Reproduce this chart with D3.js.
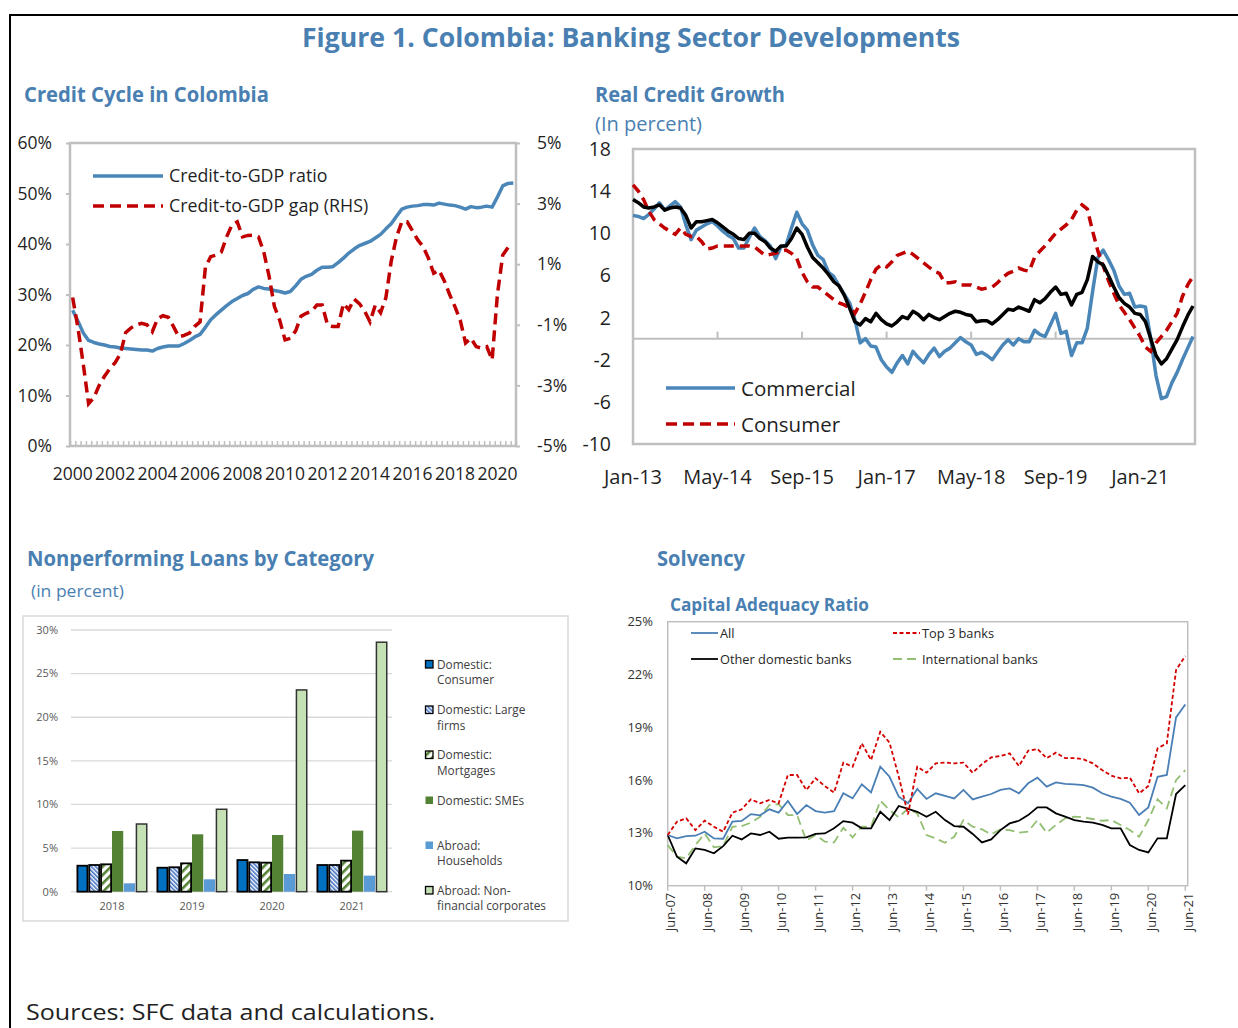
<!DOCTYPE html>
<html><head><meta charset="utf-8">
<script src="https://cdn.jsdelivr.net/npm/d3@7"></script>
<style>
body{margin:0;background:#fff}
svg{display:block}
text{font-family:"Open Sans","Noto Sans","DejaVu Sans",sans-serif}
</style>
</head><body>
<svg id="c" width="1238" height="1028"></svg>
<script>
// ---------------- DATA ----------------
// Chart 1: Credit cycle (quarterly, 2000Q1 ...)
const c1YearLabels = [2000,2002,2004,2006,2008,2010,2012,2014,2016,2018,2020];
const c1LeftTicks = [0,10,20,30,40,50,60];
const c1RightTicks = [-5,-3,-1,1,3,5];
const creditRatio = [
 26.9,24.7,22.4,20.9, 20.5,20.2,20.0,19.7, 19.6,19.4,19.3,19.2, 19.1,19.0,19.0,18.8,
 19.3,19.6,19.8,19.8, 19.8,20.3,20.9,21.6, 22.1,23.5,25.0,26.0, 26.9,27.8,28.6,29.2,
 29.8,30.2,31.0,31.5, 31.2,31.1,30.8,30.6, 30.3,30.6,31.7,33.0, 33.6,34.0,34.8,35.4,
 35.4,35.5,36.3,37.2, 38.2,39.0,39.7,40.1, 40.5,41.2,41.9,43.0, 44.0,45.5,46.9,47.3,
 47.5,47.6,47.8,47.8, 47.7,48.1,47.9,47.7, 47.6,47.3,46.9,47.4, 47.2,47.3,47.5,47.3,
 49.3,51.5,52.0,52.1];
const creditGap = [
 -0.1,-1.1,-2.3,-3.6, -3.4,-3.0,-2.7,-2.45, -2.25,-1.95,-1.25,-1.1, -1.0,-0.95,-1.0,-1.23,
 -0.8,-0.7,-0.75,-1.06, -1.4,-1.35,-1.27,-1.05, -0.9,0.9,1.25,1.3, 1.4,1.9,2.3,2.4,
 1.9,1.95,1.96,1.9, 1.4,0.6,-0.4,-0.85, -1.5,-1.45,-1.2,-0.72, -0.62,-0.55,-0.35,-0.35,
 -1.0,-1.06,-1.06,-0.3, -0.5,-0.15,-0.3,-0.55, -0.9,-0.35,-0.6,-0.1, 1.1,1.9,2.4,2.4,
 2.1,1.8,1.58,1.2, 0.7,0.8,0.45,0.0, -0.4,-0.85,-1.6,-1.44, -1.72,-1.77,-1.72,-2.16,
 0.0,1.3,1.55];

// Chart 2: Real credit growth (monthly, Jan-13 ... Nov-21)
const c2MonthLabels = ["Jan-13","May-14","Sep-15","Jan-17","May-18","Sep-19","Jan-21"];
const c2YTicks = [-10,-6,-2,2,6,10,14,18];
const commercial = [
 11.7,11.6,11.4,11.8,12.3,12.9,12.2,12.6,13.0,12.5,
 10.8,9.4,10.3,10.6,10.9,11.1,10.7,10.2,9.8,9.5,
 8.6,8.6,9.6,10.5,9.7,9.3,8.8,7.6,8.7,8.9,
 10.5,12.0,10.9,10.3,8.9,7.9,7.5,6.3,5.9,5.0,
 4.2,3.4,1.8,-0.4,0.0,-0.7,-0.8,-2.0,-2.7,-3.2,
 -2.3,-1.6,-2.4,-1.2,-1.8,-2.3,-1.5,-0.9,-1.7,-1.2,
 -0.9,-0.4,0.1,-0.3,-0.6,-1.5,-1.3,-1.6,-2.0,-1.3,
 -0.6,-0.1,-0.6,0.0,-0.3,-0.3,0.8,0.4,0.2,1.3,
 2.4,0.5,0.7,-1.6,-0.4,-0.4,1.0,4.5,7.7,8.4,
 7.5,6.5,5.0,4.2,4.3,3.0,3.1,3.0,0.0,-3.5,
 -5.7,-5.5,-4.2,-3.2,-2.0,-0.9,0.2];
const consumer = [
 14.6,14.0,13.2,12.1,11.3,10.9,10.5,10.2,9.9,10.5,
 9.9,9.7,9.7,9.2,8.5,8.6,8.8,8.8,8.8,8.8,
 8.8,8.8,8.8,8.7,8.3,7.9,8.0,8.1,8.3,8.4,
 8.1,7.6,6.3,5.4,4.9,4.9,4.5,4.1,3.7,3.4,
 3.2,2.9,2.4,3.3,4.4,5.6,6.6,7.0,6.8,7.3,
 7.9,8.1,8.3,8.0,7.6,7.2,6.8,6.4,6.2,5.3,
 5.3,5.4,5.1,5.1,5.1,4.9,4.7,4.8,4.9,5.3,
 5.8,6.2,6.4,6.7,6.5,6.4,7.7,8.3,8.8,9.4,
 10.0,10.4,10.8,11.3,12.2,12.7,12.3,10.2,8.3,6.9,
 5.5,4.3,3.2,2.5,1.8,1.0,0.2,-0.8,-1.2,-0.4,
 0.2,0.8,1.6,2.4,4.0,5.1,5.9];
const total = [
 13.2,12.9,12.5,12.4,12.5,12.7,12.2,12.4,12.5,12.4,
 11.7,10.5,11.1,11.1,11.2,11.3,11.0,10.6,10.2,9.9,
 9.5,9.4,10.0,10.0,9.5,9.2,8.6,8.3,8.8,8.8,
 9.5,10.5,9.9,8.7,7.7,7.2,6.7,6.1,5.4,5.0,
 4.1,2.9,1.6,1.3,1.9,1.6,2.4,1.8,1.4,1.2,
 1.6,2.1,1.9,2.6,2.3,1.8,2.3,2.0,1.8,2.1,
 2.4,2.6,2.5,2.3,2.2,1.6,1.7,1.7,1.4,1.8,
 2.3,2.8,2.7,3.0,2.8,2.6,3.7,3.4,3.8,4.4,
 4.9,4.2,4.3,3.2,4.2,4.4,5.6,7.8,7.3,7.0,
 6.0,4.9,3.9,3.35,3.0,2.4,2.3,1.6,0.0,-1.6,
 -2.4,-1.9,-1.0,-0.1,1.1,2.2,3.1];

// Chart 3: NPL by category
const nplYears = ["2018","2019","2020","2021"];
const nplYTicks = [0,5,10,15,20,25,30];
const nplDomConsumer = [2.98,2.75,3.63,3.06];
const nplDomLarge = [3.06,2.80,3.37,3.06];
const nplDomMortgage = [3.14,3.25,3.33,3.56];
const nplDomSME = [6.96,6.58,6.50,7.00];
const nplAbrHouseholds = [0.96,1.42,2.03,1.84];
const nplAbrNFC = [7.76,9.45,23.13,28.60];
const nplLegend = [["Domestic:","Consumer"],["Domestic: Large","firms"],["Domestic:","Mortgages"],["Domestic: SMEs"],["Abroad:","Households"],["Abroad: Non-","financial corporates"]];

// Chart 4: Capital adequacy ratio (quarterly, Jun-07 ... Jun-21)
const carLabels = ["Jun-07","Jun-08","Jun-09","Jun-10","Jun-11","Jun-12","Jun-13","Jun-14","Jun-15","Jun-16","Jun-17","Jun-18","Jun-19","Jun-20","Jun-21"];
const carYTicks = [10,13,16,19,22,25];
const carAll = [12.88,12.69,12.82,12.84,13.07,12.69,12.67,13.64,13.68,14.07,14.0,14.34,14.15,14.81,14.07,14.58,14.24,14.15,14.24,15.25,14.96,15.76,15.3,16.76,16.19,15.06,14.68,15.5,14.93,15.25,15.1,14.96,15.44,14.9,15.06,15.21,15.44,15.53,15.25,15.82,16.14,15.63,15.87,15.78,15.76,15.72,15.57,15.25,15.06,14.93,14.72,14.02,14.45,16.19,16.29,19.56,20.3];
const carTop3 = [12.88,13.64,13.83,13.16,13.7,13.35,13.07,14.15,14.34,14.91,14.68,14.87,14.68,16.29,16.29,15.44,16.1,15.66,15.29,16.99,16.76,18.09,17.14,18.75,18.13,16.19,14.05,16.76,16.42,16.95,17.0,16.95,16.99,16.42,16.91,17.29,17.37,17.52,16.8,17.67,17.77,17.25,17.56,17.25,17.25,17.18,16.95,16.57,16.25,16.1,16.14,15.25,15.66,17.8,18.09,22.25,23.05];
const carOther = [12.88,11.65,11.27,12.12,12.03,11.84,12.25,12.84,12.63,12.97,12.88,13.07,12.67,12.73,12.73,12.75,12.94,12.97,13.26,13.67,13.58,13.26,13.26,14.2,13.73,14.53,14.36,14.2,13.92,14.2,13.73,13.39,13.35,12.94,12.46,12.63,13.16,13.54,13.69,14.01,14.45,14.45,14.11,13.92,13.73,13.64,13.58,13.45,13.26,13.26,12.31,12.03,11.89,12.69,12.69,15.21,15.72];
const carIntl = [12.31,11.65,11.55,12.31,12.97,12.18,12.25,13.35,13.39,13.58,13.92,14.58,14.64,14.01,14.01,12.56,12.88,12.5,12.46,13.29,12.75,13.35,13.35,14.83,14.3,13.88,14.39,14.11,12.88,12.69,12.44,12.78,13.73,13.35,13.2,12.92,13.2,13.16,13.01,13.07,13.73,13.01,13.45,13.83,13.92,13.88,13.79,13.69,13.73,13.45,13.16,12.78,13.73,14.91,14.39,16.0,16.57];

// ---------------- DRAW ----------------
const svg = d3.select("#c");
const TITLE = "#4a7fb2";
const TXT = "#1f1f1f";
const AX = "#bfbfbf";

function label(x, y, txt, size, weight, color, len) {
  const t = svg.append("text").attr("x", x).attr("y", y).attr("font-size", size)
    .attr("font-weight", weight).attr("fill", color).text(txt);
  if (len) t.attr("textLength", len).attr("lengthAdjust", "spacingAndGlyphs");
  return t;
}

// frame
svg.append("path").attr("d", "M10,1028V15H1238").attr("fill", "none").attr("stroke", "#000").attr("stroke-width", 2);

// titles
label(302, 47, "Figure 1. Colombia: Banking Sector Developments", 27, 700, TITLE, 658);
label(24, 102, "Credit Cycle in Colombia", 21, 700, TITLE, 245);
label(595, 102, "Real Credit Growth", 21, 700, TITLE, 190);
label(595, 131, "(In percent)", 19.5, 400, TITLE, 107);
label(27, 566, "Nonperforming Loans by Category", 21, 700, TITLE, 347);
label(31, 597, "(in percent)", 17, 400, TITLE, 93);
label(657, 566, "Solvency", 21, 700, TITLE, 88);
label(670, 611, "Capital Adequacy Ratio", 17, 700, TITLE, 199);
label(26, 1020, "Sources: SFC data and calculations.", 22.5, 400, "#222", 409);

// ===== Chart 1 =====
(function(){
  const g = svg.append("g");
  const x = d3.scaleLinear().domain([0, 84]).range([70, 516]);
  const yL = d3.scaleLinear().domain([0, 60]).range([446, 143]);
  const yR = d3.scaleLinear().domain([-5, 5]).range([446, 143]);
  const [x0, x1] = x.range(), [yb, yt] = yL.range();
  g.append("rect").attr("x", x0).attr("y", yt).attr("width", x1 - x0).attr("height", yb - yt)
    .attr("fill", "none").attr("stroke", AX).attr("stroke-width", 2.5);
  const mt = g.append("g").attr("transform", `translate(0,${yb})`)
    .call(d3.axisBottom(x).tickValues(d3.range(0, 85)).tickSize(-5).tickFormat(""));
  mt.select(".domain").remove();
  mt.selectAll("line").attr("stroke", AX).attr("stroke-width", 1.5);
  const aL = g.append("g").attr("transform", `translate(${x0},0)`)
    .call(d3.axisLeft(yL).tickValues(c1LeftTicks).tickFormat(d => d + "%").tickSize(4).tickPadding(14));
  const aR = g.append("g").attr("transform", `translate(${x1},0)`)
    .call(d3.axisRight(yR).tickValues(c1RightTicks).tickFormat(d => d + "%").tickSize(4).tickPadding(17));
  [aL, aR].forEach(a => {
    a.select(".domain").remove();
    a.selectAll("line").attr("stroke", AX).attr("stroke-width", 2);
    a.selectAll("text").attr("font-size", 17.5).attr("fill", TXT).style("font-family", null);
  });
  g.selectAll(".yl").data(c1YearLabels).join("text")
    .attr("x", d => x((d - 2000) * 4 + 0.5)).attr("y", 480).attr("text-anchor", "middle")
    .attr("font-size", 17.5).attr("fill", TXT).text(d => d);
  const line = (y) => d3.line().x((d, i) => x(i + 0.5)).y(d => y(d));
  g.append("path").datum(creditRatio).attr("d", line(yL)).attr("fill", "none")
    .attr("stroke", "#4a86b8").attr("stroke-width", 3.5).attr("stroke-linejoin", "round");
  g.append("path").datum(creditGap).attr("d", line(yR)).attr("fill", "none")
    .attr("stroke", "#c00000").attr("stroke-width", 3.5).attr("stroke-dasharray", "11,6");
  const leg = [["Credit-to-GDP ratio", "#4a86b8", null, 176], ["Credit-to-GDP gap (RHS)", "#c00000", "11,6", 206]];
  leg.forEach(([t, c, da, yy]) => {
    g.append("line").attr("x1", 93).attr("x2", 163).attr("y1", yy).attr("y2", yy)
      .attr("stroke", c).attr("stroke-width", 3.5).attr("stroke-dasharray", da);
    g.append("text").attr("x", 169).attr("y", yy + 6).attr("font-size", 17.8).attr("fill", TXT).text(t);
  });
})();

// ===== Chart 2 =====
(function(){
  const g = svg.append("g");
  const x = d3.scaleLinear().domain([0, 106]).range([633, 1193]);
  const y = d3.scaleLinear().domain([-10, 18]).range([444, 149]);
  const [yb, yt] = y.range();
  g.append("rect").attr("x", 633).attr("y", yt).attr("width", 1195 - 633).attr("height", yb - yt)
    .attr("fill", "none").attr("stroke", AX).attr("stroke-width", 2.5);
  g.append("line").attr("x1", 633).attr("x2", 1195).attr("y1", y(0)).attr("y2", y(0))
    .attr("stroke", AX).attr("stroke-width", 2);
  const tickIdx = c2MonthLabels.map((d, i) => i * 16);
  g.selectAll(".tk").data(tickIdx.slice(1)).join("line")
    .attr("x1", d => x(d)).attr("x2", d => x(d)).attr("y1", y(0)).attr("y2", y(0) - 7)
    .attr("stroke", AX).attr("stroke-width", 2);
  g.selectAll(".yt").data(c2YTicks).join("text")
    .attr("x", 611).attr("y", d => y(d)).attr("dy", "0.36em").attr("text-anchor", "end")
    .attr("font-size", 19.5).attr("fill", TXT).text(d => d);
  g.selectAll(".xt").data(c2MonthLabels).join("text")
    .attr("x", (d, i) => x(tickIdx[i])).attr("y", 484).attr("text-anchor", "middle")
    .attr("font-size", 20).attr("fill", TXT).text(d => d);
  const line = d3.line().x((d, i) => x(i)).y(d => y(d));
  g.append("path").datum(commercial).attr("d", line).attr("fill", "none")
    .attr("stroke", "#4a86b8").attr("stroke-width", 3.5).attr("stroke-linejoin", "round");
  g.append("path").datum(consumer).attr("d", line).attr("fill", "none")
    .attr("stroke", "#c00000").attr("stroke-width", 3.5).attr("stroke-dasharray", "10,6");
  g.append("path").datum(total).attr("d", line).attr("fill", "none")
    .attr("stroke", "#000").attr("stroke-width", 3.5).attr("stroke-linejoin", "round");
  const leg = [["Commercial", "#4a86b8", null, 388], ["Consumer", "#c00000", "11,6", 424]];
  leg.forEach(([t, c, da, yy]) => {
    g.append("line").attr("x1", 666).attr("x2", 735).attr("y1", yy).attr("y2", yy)
      .attr("stroke", c).attr("stroke-width", 3.5).attr("stroke-dasharray", da);
    g.append("text").attr("x", 741).attr("y", yy + 8).attr("font-size", 20.5).attr("fill", TXT).text(t);
  });
})();

// ===== Chart 3 =====
(function(){
  const g = svg.append("g");
  const defs = svg.append("defs");
  const p1 = defs.append("pattern").attr("id", "hatchBlue").attr("patternUnits", "userSpaceOnUse")
    .attr("width", 3).attr("height", 3).attr("patternTransform", "rotate(-45)");
  p1.append("rect").attr("width", 3).attr("height", 3).attr("fill", "#fff");
  p1.append("rect").attr("width", 1.6).attr("height", 3).attr("fill", "#4472c4");
  const p2 = defs.append("pattern").attr("id", "hatchGreen").attr("patternUnits", "userSpaceOnUse")
    .attr("width", 6).attr("height", 6).attr("patternTransform", "rotate(45)");
  p2.append("rect").attr("width", 6).attr("height", 6).attr("fill", "#fff");
  p2.append("rect").attr("width", 2.6).attr("height", 6).attr("fill", "#548235");

  g.append("rect").attr("x", 23).attr("y", 616).attr("width", 545).attr("height", 305)
    .attr("fill", "#fff").attr("stroke", "#d9d9d9").attr("stroke-width", 1.5);
  const y = d3.scaleLinear().domain([0, 30]).range([891.7, 630]);
  const x = d3.scaleBand().domain(nplYears).range([72, 392]).paddingInner(0.1125).paddingOuter(0.05625);
  g.selectAll(".gl").data(nplYTicks).join("line")
    .attr("x1", 71).attr("x2", 392).attr("y1", d => y(d)).attr("y2", d => y(d))
    .attr("stroke", "#d9d9d9").attr("stroke-width", 1.3);
  g.selectAll(".yt").data(nplYTicks).join("text")
    .attr("x", 58).attr("y", d => y(d)).attr("dy", "0.35em").attr("text-anchor", "end")
    .attr("font-size", 11).attr("fill", "#595959").text(d => d + "%");
  g.selectAll(".xt").data(nplYears).join("text")
    .attr("x", d => x(d) + x.bandwidth() / 2).attr("y", 910).attr("text-anchor", "middle")
    .attr("font-size", 11).attr("fill", "#595959").text(d => d);
  const series = [
    {v: nplDomConsumer, fill: "#0070c0", stroke: "#000", sw: 1.8},
    {v: nplDomLarge, fill: "url(#hatchBlue)", stroke: "#000", sw: 1.8},
    {v: nplDomMortgage, fill: "url(#hatchGreen)", stroke: "#000", sw: 1.8},
    {v: nplDomSME, fill: "#548235", stroke: "none", sw: 0},
    {v: nplAbrHouseholds, fill: "#5b9bd5", stroke: "none", sw: 0},
    {v: nplAbrNFC, fill: "#c5e0b4", stroke: "#333", sw: 1.5}
  ];
  const xs = d3.scaleBand().domain(d3.range(series.length)).range([0, x.bandwidth()]);
  series.forEach((s, si) => {
    g.selectAll(".b" + si).data(s.v).join("rect")
      .attr("x", (d, i) => x(nplYears[i]) + xs(si) + (s.sw ? s.sw / 2 : 0))
      .attr("width", xs.bandwidth() - (s.sw ? s.sw : 0.6))
      .attr("y", d => y(d)).attr("height", d => y(0) - y(d))
      .attr("fill", s.fill).attr("stroke", s.stroke).attr("stroke-width", s.sw);
  });
  const legY = [664.5, 710, 755, 800.5, 845.5, 890.5];
  nplLegend.forEach((lines, i) => {
    const s = series[i];
    g.append("rect").attr("x", 425.5).attr("y", legY[i] - 4).attr("width", 7.5).attr("height", 7.5)
      .attr("fill", s.fill).attr("stroke", s.stroke === "none" ? "none" : "#000").attr("stroke-width", 1.3);
    lines.forEach((t, j) => {
      g.append("text").attr("x", 437).attr("y", legY[i] + 4 + j * 15.5)
        .attr("font-size", 11.8).attr("fill", "#404040").text(t);
    });
  });
})();

// ===== Chart 4 =====
(function(){
  const g = svg.append("g");
  const x = d3.scaleLinear().domain([0, 56]).range([667.7, 1185.3]);
  const y = d3.scaleLinear().domain([10, 25]).range([885.7, 621.7]);
  const [yb, yt] = y.range();
  g.append("rect").attr("x", 667.7).attr("y", yt).attr("width", 1187.7 - 667.7).attr("height", yb - yt)
    .attr("fill", "none").attr("stroke", AX).attr("stroke-width", 1.5);
  g.selectAll(".yt").data(carYTicks).join("text")
    .attr("x", 653).attr("y", d => y(d)).attr("dy", "0.35em").attr("text-anchor", "end")
    .attr("font-size", 13).attr("fill", "#333").text(d => d + "%");
  g.selectAll(".tk").data(carLabels).join("line")
    .attr("x1", (d, i) => x(i * 4)).attr("x2", (d, i) => x(i * 4)).attr("y1", yb).attr("y2", yb + 5)
    .attr("stroke", AX).attr("stroke-width", 1.5);
  g.selectAll(".xt").data(carLabels).join("text")
    .attr("transform", (d, i) => `translate(${x(i * 4) + 3},${yb + 7}) rotate(-90)`)
    .attr("dy", "0.35em").attr("text-anchor", "end")
    .attr("font-size", 13).attr("fill", "#333").text(d => d);
  const line = d3.line().x((d, i) => x(i)).y(d => y(d));
  const series = [
    {v: carIntl, c: "#93bf72", da: "9,5", name: "International banks", lx: 893, ly: 659},
    {v: carOther, c: "#000", da: null, name: "Other domestic banks", lx: 691, ly: 659},
    {v: carAll, c: "#4a7fb5", da: null, name: "All", lx: 691, ly: 633},
    {v: carTop3, c: "#d40000", da: "4,2.5", name: "Top 3 banks", lx: 893, ly: 633}
  ];
  series.forEach(s => {
    g.append("path").datum(s.v).attr("d", line).attr("fill", "none")
      .attr("stroke", s.c).attr("stroke-width", 1.8).attr("stroke-dasharray", s.da);
    g.append("line").attr("x1", s.lx).attr("x2", s.lx + 27).attr("y1", s.ly).attr("y2", s.ly)
      .attr("stroke", s.c).attr("stroke-width", 1.8).attr("stroke-dasharray", s.da);
    g.append("text").attr("x", s.lx + 29).attr("y", s.ly + 4.5).attr("font-size", 12.8)
      .attr("fill", "#262626").text(s.name);
  });
})();
</script>
</body></html>
